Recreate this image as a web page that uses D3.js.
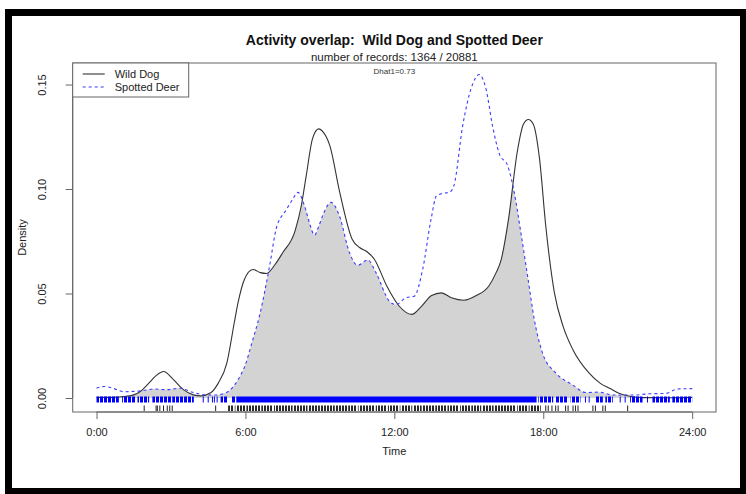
<!DOCTYPE html>
<html>
<head>
<meta charset="utf-8">
<script src="https://cdn.jsdelivr.net/npm/d3@7"></script>
<style>
  html, body { margin: 0; padding: 0; background: #fff; }
  svg { display: block; font-family: "Liberation Sans", Arial, sans-serif; }
  text { white-space: pre; }
</style>
</head>
<body>
<script>
// activity density curves (hour of day, density)
const dogHours = [0, 0.6, 1.2, 1.5, 1.75, 2.1, 2.4, 2.7, 3.1, 3.5, 3.9, 4.2, 4.6, 4.9, 5.25, 5.55, 5.7, 5.95, 6.3, 6.6, 6.85, 7.2, 7.5, 8.0, 8.25, 8.45, 8.7, 8.95, 9.15, 9.4, 9.8, 10.3, 10.6, 10.9, 11.2, 11.7, 12.2, 12.7, 13.1, 13.5, 13.9, 14.3, 14.8, 15.3, 15.8, 16.1, 16.3, 16.6, 16.95, 17.2, 17.4, 17.6, 17.85, 18.1, 18.45, 18.8, 19.2, 19.85, 20.3, 20.7, 21.1, 21.6, 22.0, 23.0, 24];
const dogDensity = [0.0003, 0.0003, 0.0008, 0.0015, 0.003, 0.007, 0.0107, 0.0127, 0.0088, 0.004, 0.0015, 0.001, 0.0025, 0.007, 0.0167, 0.036, 0.0455, 0.0565, 0.0615, 0.060, 0.0596, 0.064, 0.0695, 0.080, 0.092, 0.1064, 0.124, 0.1288, 0.127, 0.1208, 0.0984, 0.076, 0.072, 0.070, 0.0663, 0.0535, 0.0439, 0.040, 0.044, 0.049, 0.0503, 0.048, 0.0468, 0.049, 0.0535, 0.060, 0.066, 0.0856, 0.1176, 0.131, 0.1333, 0.131, 0.1144, 0.0824, 0.0503, 0.0343, 0.023, 0.0119, 0.007, 0.0045, 0.002, 0.0006, 0.0002, 0.0001, 0.0003];

const deerHours = [0, 0.3, 0.7, 1.1, 1.6, 2.0, 2.3, 2.8, 3.4, 3.8, 4.1, 4.5, 4.8, 5.1, 5.35, 5.7, 6.0, 6.25, 6.6, 6.97, 7.24, 7.64, 7.9, 8.11, 8.38, 8.6, 8.78, 8.95, 9.11, 9.45, 9.79, 10.19, 10.52, 10.93, 11.26, 11.8, 12.07, 12.47, 12.8, 13.14, 13.48, 13.7, 14.0, 14.22, 14.4, 14.75, 15.09, 15.42, 15.69, 15.96, 16.23, 16.57, 16.83, 17.1, 17.37, 17.64, 17.97, 18.51, 19.18, 19.72, 20.26, 20.8, 21.6, 22.27, 22.94, 23.41, 24];
const deerDensity = [0.0047, 0.0055, 0.0045, 0.003, 0.0032, 0.0038, 0.0043, 0.004, 0.0047, 0.003, 0.002, 0.0015, 0.0014, 0.002, 0.0035, 0.0087, 0.016, 0.026, 0.041, 0.063, 0.081, 0.090, 0.095, 0.0984, 0.092, 0.083, 0.0779, 0.082, 0.0872, 0.0936, 0.087, 0.0696, 0.0635, 0.066, 0.060, 0.0463, 0.0447, 0.048, 0.0487, 0.0615, 0.0856, 0.0968, 0.098, 0.0984, 0.1016, 0.130, 0.148, 0.1548, 0.148, 0.130, 0.1168, 0.111, 0.0984, 0.079, 0.0583, 0.0375, 0.0215, 0.0119, 0.0063, 0.0026, 0.0028, 0.0014, 0.0014, 0.002, 0.0022, 0.0043, 0.0045];

// rug of record times (hours): single ticks plus runs too dense to separate
const dogRugTicks = [1.92, 2.4, 2.45, 2.55, 2.7, 2.85, 2.95, 3.05, 4.8, 18.1, 18.2, 18.35, 18.5, 18.6, 18.9, 19.0, 19.2, 19.3, 19.4, 20.0, 20.1, 20.4, 20.5, 21.4];
const dogRugRuns = [[5.3, 5.55], [5.6, 6.0], [6.04, 6.6], [6.64, 7.1], [7.15, 7.9], [7.94, 8.5], [8.54, 9.0], [9.04, 9.6], [9.65, 10.1], [10.14, 10.5], [10.55, 11.2], [11.25, 11.7], [11.74, 12.2], [12.25, 12.7], [12.74, 13.1], [13.15, 13.6], [13.65, 14.1], [14.14, 14.6], [14.65, 15.05], [15.1, 15.5], [15.55, 16.0], [16.04, 16.5], [16.54, 16.9], [16.95, 17.4], [17.44, 17.9]];
const deerRugTicks = [4.3, 4.5, 4.67, 4.75, 4.86, 19.7, 19.85, 21.1, 21.3, 22.2];
const deerRugRuns = [[0.0, 0.9], [1.03, 1.55], [1.65, 2.12], [2.25, 3.0], [3.05, 3.92], [5.0, 5.26], [5.42, 5.6], [5.63, 17.73], [17.8, 18.4], [18.5, 19.0], [19.1, 19.5], [20.1, 20.4], [20.5, 20.8], [21.5, 22.0], [22.4, 23.1], [23.2, 24.0]];

const timeTicks = [0, 6, 12, 18, 24];
const timeLabels = ["0:00", "6:00", "12:00", "18:00", "24:00"];
const densityTicks = [0, 0.05, 0.10, 0.15];
const seriesNames = ["Wild Dog", "Spotted Deer"];

const width = 746, height = 494;
const box = {left: 72.7, right: 716, top: 63, bottom: 412};

const svg = d3.select("body").append("svg")
    .attr("width", width)
    .attr("height", height);

// stripe textures so dense rug runs read as many separate ticks
const defs = svg.append("defs");
[["dog-stripes", "#2a2a2a", 3], ["deer-stripes", "#0000ff", 4]].forEach(([id, color, w]) => {
  const p = defs.append("pattern")
      .attr("id", id)
      .attr("patternUnits", "userSpaceOnUse")
      .attr("width", w).attr("height", 10);
  p.append("rect")
      .attr("width", w - 1).attr("height", 10)
      .attr("fill", color);
});

// black frame around the whole picture
svg.append("rect")
    .attr("x", 8.5).attr("y", 12.5)
    .attr("width", 735).attr("height", 479)
    .attr("fill", "#fff")
    .attr("stroke", "#000")
    .attr("stroke-width", 7);

const x = d3.scaleLinear().domain([-0.96, 24.96]).range([box.left, box.right]);
const y = d3.scaleLinear().domain([-0.0067, 0.1603]).range([box.bottom, box.top]);

const dog = dogHours.map((h, i) => [h, dogDensity[i]]);
const deer = deerHours.map((h, i) => [h, deerDensity[i]]);

const line = d3.line()
    .x(d => x(d[0]))
    .y(d => y(d[1]))
    .curve(d3.curveMonotoneX);
const area = d3.area()
    .x(d => x(d[0]))
    .y0(y(0))
    .y1(d => y(d[1]))
    .curve(d3.curveMonotoneX);

// overlap = area under deer clipped to area under dog
svg.append("clipPath")
    .attr("id", "dog-clip")
  .append("path")
    .attr("d", area(dog));

svg.append("path")
    .attr("d", area(deer))
    .attr("fill", "#d3d3d3")
    .attr("clip-path", "url(#dog-clip)");

svg.append("path")
    .attr("d", line(dog))
    .attr("fill", "none")
    .attr("stroke", "#333")
    .attr("stroke-width", 1.1);

svg.append("path")
    .attr("d", line(deer))
    .attr("fill", "none")
    .attr("stroke", "#3b3bff")
    .attr("stroke-width", 1.1)
    .attr("stroke-dasharray", "3,3");

// rugs
const y0 = y(0);
const deerRug = svg.append("g");
deerRug.selectAll("rect.run")
  .data(deerRugRuns)
  .join("rect")
    .attr("class", "run")
    .attr("x", d => x(d[0]))
    .attr("width", d => Math.max(1, x(d[1]) - x(d[0])))
    .attr("y", y0 - 1.5)
    .attr("height", 6)
    .attr("fill", d => d[1] - d[0] > 3 ? "#0000ff" : "url(#deer-stripes)");
deerRug.selectAll("rect.tick")
  .data(deerRugTicks)
  .join("rect")
    .attr("class", "tick")
    .attr("x", d => x(d) - 0.5)
    .attr("width", 1)
    .attr("y", y0 - 1.5)
    .attr("height", 6)
    .attr("fill", "#0000ff");

const dogRug = svg.append("g");
dogRug.selectAll("rect.run")
  .data(dogRugRuns)
  .join("rect")
    .attr("class", "run")
    .attr("x", d => x(d[0]))
    .attr("width", d => Math.max(1, x(d[1]) - x(d[0])))
    .attr("y", y0 + 7.5)
    .attr("height", 5.5)
    .attr("fill", "url(#dog-stripes)");
dogRug.selectAll("rect.tick")
  .data(dogRugTicks)
  .join("rect")
    .attr("class", "tick")
    .attr("x", d => x(d) - 0.5)
    .attr("width", 1)
    .attr("y", y0 + 7.5)
    .attr("height", 5.5)
    .attr("fill", "#222");

// plot box
svg.append("rect")
    .attr("x", box.left).attr("y", box.top)
    .attr("width", box.right - box.left)
    .attr("height", box.bottom - box.top)
    .attr("fill", "none")
    .attr("stroke", "#666");

// axes
const xAxis = svg.append("g")
    .attr("transform", `translate(0,${box.bottom})`)
    .call(d3.axisBottom(x)
      .tickValues(timeTicks)
      .tickFormat((d, i) => timeLabels[i])
      .tickSize(7)
      .tickSizeOuter(0));
xAxis.select(".domain").attr("d", `M${x(0)},0H${x(24)}`).attr("stroke", "#666");
xAxis.selectAll(".tick line").attr("stroke", "#666");
xAxis.selectAll(".tick text")
    .attr("y", 16)
    .attr("font-size", 11)
    .attr("fill", "#222");

const yAxis = svg.append("g")
    .attr("transform", `translate(${box.left},0)`)
    .call(d3.axisLeft(y)
      .tickValues(densityTicks)
      .tickFormat(d3.format(".2f"))
      .tickSize(7)
      .tickSizeOuter(0));
yAxis.select(".domain").attr("d", `M0,${y(0)}V${y(0.15)}`).attr("stroke", "#666");
yAxis.selectAll(".tick line").attr("stroke", "#666");
yAxis.selectAll(".tick text")
    .attr("x", null)
    .attr("dy", "0.35em")
    .attr("transform", "translate(-30.5,0) rotate(-90)")
    .attr("text-anchor", "middle")
    .attr("font-size", 11)
    .attr("fill", "#222");

svg.append("text")
    .attr("x", (box.left + box.right) / 2)
    .attr("y", 455)
    .attr("text-anchor", "middle")
    .attr("font-size", 11)
    .attr("fill", "#222")
    .text("Time");

svg.append("text")
    .attr("transform", `translate(26,${(box.top + box.bottom) / 2}) rotate(-90)`)
    .attr("text-anchor", "middle")
    .attr("font-size", 11)
    .attr("fill", "#222")
    .text("Density");

// titles
svg.append("text")
    .attr("x", (box.left + box.right) / 2)
    .attr("y", 44.5)
    .attr("text-anchor", "middle")
    .attr("font-size", 14)
    .attr("font-weight", "bold")
    .attr("fill", "#111")
    .text("Activity overlap:  Wild Dog and Spotted Deer");

svg.append("text")
    .attr("x", (box.left + box.right) / 2)
    .attr("y", 60.5)
    .attr("text-anchor", "middle")
    .attr("font-size", 11.5)
    .attr("fill", "#222")
    .text("number of records: 1364 / 20881");

svg.append("text")
    .attr("x", (box.left + box.right) / 2)
    .attr("y", 74)
    .attr("text-anchor", "middle")
    .attr("font-size", 8)
    .attr("fill", "#333")
    .text("Dhat1=0.73");

// legend
const legend = svg.append("g");
legend.append("rect")
    .attr("x", box.left).attr("y", box.top)
    .attr("width", 116).attr("height", 34)
    .attr("fill", "#fff")
    .attr("stroke", "#666");

const legendItems = legend.selectAll("g.item")
  .data(seriesNames)
  .join("g")
    .attr("class", "item")
    .attr("transform", (d, i) => `translate(${box.left},${box.top + 11 + i * 13})`);
legendItems.append("line")
    .attr("x1", 10).attr("x2", 32)
    .attr("stroke", (d, i) => i === 0 ? "#333" : "#3b3bff")
    .attr("stroke-width", 1.1)
    .attr("stroke-dasharray", (d, i) => i === 0 ? null : "3,3");
legendItems.append("text")
    .attr("x", 42)
    .attr("dy", "0.35em")
    .attr("font-size", 11)
    .attr("fill", "#222")
    .text(d => d);
</script>
</body>
</html>
